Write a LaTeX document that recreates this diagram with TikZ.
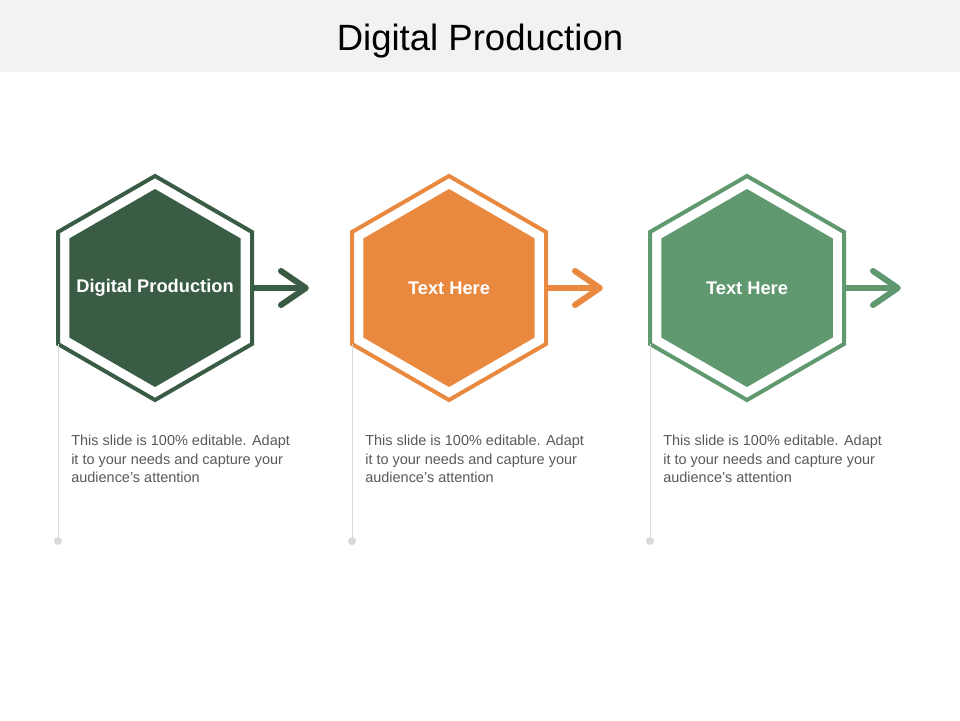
\documentclass[tikz,border=0pt]{standalone}
\usepackage{fontspec}
\setmainfont{Liberation Sans}
\usetikzlibrary{shapes.geometric,arrows.meta}
\definecolor{vertfonce}{HTML}{3B5C44}
\definecolor{orangehex}{HTML}{E8893F}
\definecolor{vertclair}{HTML}{609970}
\definecolor{bandeau}{HTML}{F2F2F2}
\definecolor{trait}{HTML}{D9D9D9}
\definecolor{gristexte}{HTML}{595959}

\begin{document}
\begin{tikzpicture}
\tikzset{anneau/.style={draw, regular polygon, regular polygon sides=6, shape border rotate=30, minimum size=5.6cm, inner sep=0pt, outer sep=0pt, line width=0.1cm},
hexplein/.style={regular polygon, regular polygon sides=6, shape border rotate=30, minimum size=4.95cm, inner sep=0pt},
etiquette/.style={text=white, font=\fontsize{13}{15}\selectfont\bfseries},
fleche/.style={line width=0.15cm, -{Straight Barb[length=0.62cm, width=0.85cm, round]}},
tige/.style={draw=trait, line width=0.6pt},
pastille/.style={circle, fill=trait, minimum size=0.2cm, inner sep=0pt},
blabla/.style={anchor=north west, inner sep=0pt, align=left, text=gristexte, font=\fontsize{10.3}{13}\selectfont}}
\useasboundingbox (0,0) rectangle (24,18);
\fill[bandeau] (0,16.2) rectangle (24,18);
\node (titre) at (12,16.975) {\fontsize{26}{30}\selectfont Digital Production};
% les trois hexagones
\node[anneau, draw=vertfonce] (R1) at (3.875,10.8) {};
\node[anneau, draw=orangehex] (R2) at (11.225,10.8) {};
\node[anneau, draw=vertclair] (R3) at (18.675,10.8) {};
\node[hexplein, fill=vertfonce, label={[etiquette]center:Digital Production}] (H1) at (3.875,10.8) {};
\node[hexplein, fill=orangehex, label={[etiquette]center:Text Here}] (H2) at (11.225,10.8) {};
\node[hexplein, fill=vertclair, label={[etiquette]center:Text Here}] (H3) at (18.675,10.8) {};
% les fleches
\coordinate (F1) at (7.72,10.8);
\coordinate (F2) at (15.07,10.8);
\coordinate (F3) at (22.52,10.8);
\draw[fleche, vertfonce] (R1.east) -- (F1);
\draw[fleche, orangehex] (R2.east) -- (F2);
\draw[fleche, vertclair] (R3.east) -- (F3);
% les tiges et les points
\node[pastille] (P1) at (R1.210 |- 0,4.475) {};
\node[pastille] (P2) at (R2.210 |- 0,4.475) {};
\node[pastille] (P3) at (R3.210 |- 0,4.475) {};
\draw[tige] (R1.210) -- (P1);
\draw[tige] (R2.210) -- (P2);
\draw[tige] (R3.210) -- (P3);
% les textes
\node[blabla] (T1) at (1.775,7.125) {This slide is 100\% editable. Adapt\\it to your needs and capture your\\audience's attention};
\node[blabla] (T2) at (9.125,7.125) {This slide is 100\% editable. Adapt\\it to your needs and capture your\\audience's attention};
\node[blabla] (T3) at (16.575,7.125) {This slide is 100\% editable. Adapt\\it to your needs and capture your\\audience's attention};
\end{tikzpicture}
\end{document}
